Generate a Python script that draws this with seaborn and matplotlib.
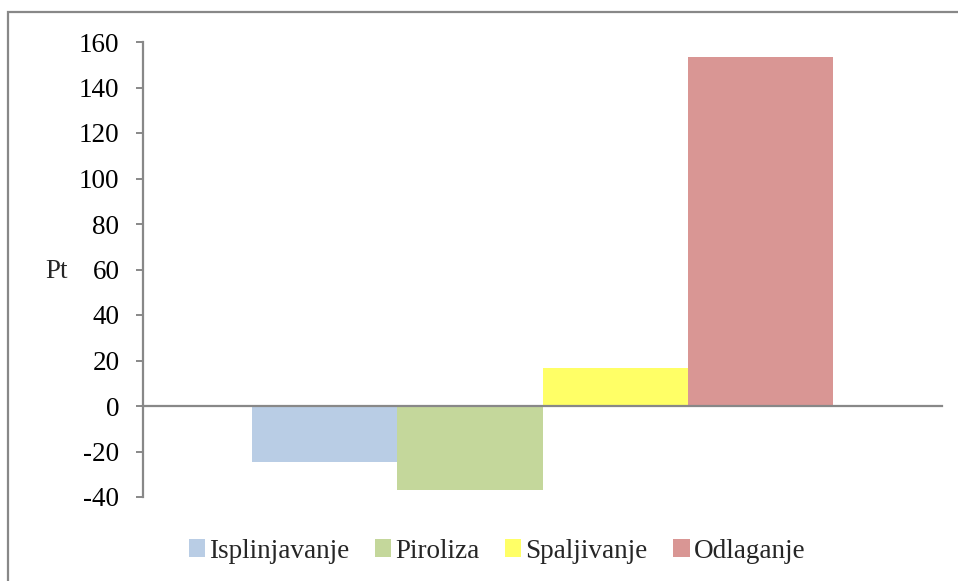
import matplotlib
matplotlib.use("Agg")
import matplotlib.pyplot as plt
from matplotlib.patches import Rectangle, Patch
import seaborn as sns
import pandas as pd

# Data
methods = ["Isplinjavanje", "Piroliza", "Spaljivanje", "Odlaganje"]
scores = [-24.5, -36.8, 16.7, 153.4]
colors = ["#B9CDE5", "#C4D79B", "#FFFF66", "#D99694"]
y_ticks = [-40, -20, 0, 20, 40, 60, 80, 100, 120, 140, 160]
y_label = "Pt"

sns.set_theme(style="white")
plt.rcParams["font.family"] = ["Liberation Serif", "DejaVu Serif"]

FS = 19.5
W, H = 958, 581
fig = plt.figure(figsize=(W / 100, H / 100), dpi=100)
fig.patch.set_facecolor("white")

# outer chart frame (runs off the right and bottom edges)
fig.add_artist(Rectangle((8 / W, -0.05), 1.1, 1 - 12 / H + 0.05,
                         transform=fig.transFigure, fill=False,
                         edgecolor="#888888", linewidth=1.6))

ax = fig.add_axes([143 / W, 1 - 497 / H, (942 - 143) / W, (497 - 42) / H])

df = pd.DataFrame({"grp": ["" for _ in methods], "method": methods, "score": scores})
sns.barplot(data=df, x="grp", y="score", hue="method", hue_order=methods,
            palette=colors, width=0.728, gap=0, saturation=1, ax=ax,
            legend=False, errorbar=None, linewidth=0)

ax.set_xlim(-0.5, 0.5)
ax.set_ylim(-40, 160)
ax.set_yticks(y_ticks)
ax.set_yticklabels([str(v) for v in y_ticks])
ax.set_xticks([])
ax.set_xlabel("")
ax.set_ylabel("")

for s in ["top", "right"]:
    ax.spines[s].set_visible(False)
ax.spines["left"].set_color("#888888")
ax.spines["left"].set_linewidth(1.6)
ax.spines["bottom"].set_position(("data", 0))
ax.spines["bottom"].set_color("#888888")
ax.spines["bottom"].set_linewidth(1.6)
ax.spines["bottom"].set_zorder(5)

ax.tick_params(axis="y", direction="out", length=5, width=1.4, color="#888888",
               pad=12, labelsize=FS, labelcolor="black", left=True)
ax.set_facecolor("white")

fig.text(57 / W, 1 - 271 / H, y_label, fontsize=FS, ha="center", va="center")

handles = [Patch(facecolor=c, edgecolor="none", label=m) for m, c in zip(methods, colors)]
fig.legend(handles=handles, loc="center", bbox_to_anchor=(497 / W, 1 - 551 / H),
           ncol=4, frameon=False, fontsize=FS, handlelength=0.6, handleheight=0.6,
           handletextpad=0.15, columnspacing=0.95, borderpad=0)

fig.savefig("out.png", dpi=100, facecolor="white")
